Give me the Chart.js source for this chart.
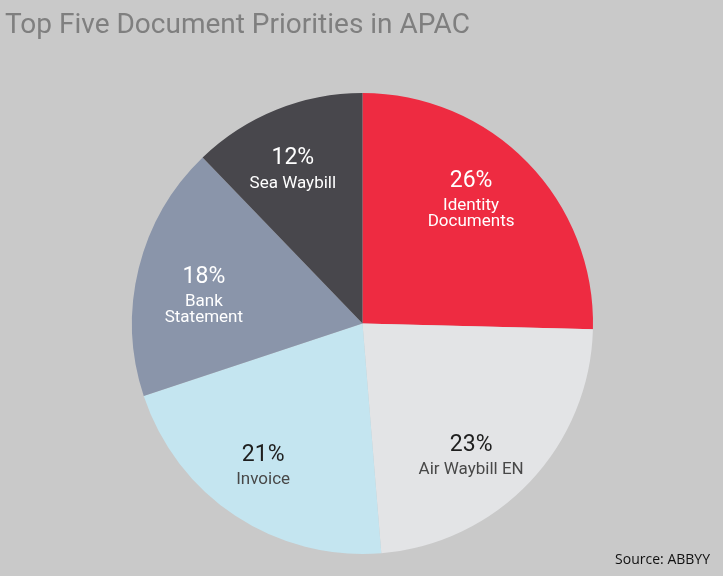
<!DOCTYPE html>
<html><head><meta charset="utf-8">
<script src="https://cdn.jsdelivr.net/npm/chart.js@4"></script>
<style>html,body{margin:0;padding:0;background:#c9c9c9;}#wrap{width:723px;height:576px;}</style>
</head><body><div id="wrap"><canvas id="c" width="723" height="576"></canvas></div>
<script>
const categories = ["Identity Documents", "Air Waybill EN", "Invoice", "Bank Statement", "Sea Waybill"];
const labelLines = [["Identity", "Documents"], ["Air Waybill EN"], ["Invoice"], ["Bank", "Statement"], ["Sea Waybill"]];
const percentLabels = ["26%", "23%", "21%", "18%", "12%"];
const values = [25.4, 23.3, 21.2, 17.9, 12.2];
const titleText = "Top Five Document Priorities in APAC";
const sourceText = "Source: ABBYY";

const colors = ["#ee2b41", "#e3e4e6", "#c4e5f0", "#8a95aa", "#48474c"];
const pctColors = ["#ffffff", "#1e1e1e", "#1e1e1e", "#ffffff", "#ffffff"];
const nameColors = ["#ffffff", "#484848", "#484848", "#ffffff", "#ffffff"];
const labelRadius = [0.777, 0.707, 0.715, 0.717, 0.778];
const labelShiftDeg = [-8.4, 4.8, 3.6, 2.45, -0.9];

const labelPlugin = {
  id: 'labels',
  afterDraw(chart) {
    const ctx = chart.ctx;
    ctx.save();
    ctx.fillStyle = '#7f7f7f';
    ctx.font = '28px Roboto, "Liberation Sans", sans-serif';
    ctx.textAlign = 'left'; ctx.textBaseline = 'alphabetic';
    ctx.fillText(titleText, 5, 33);
    ctx.fillStyle = '#111';
    ctx.font = '14px "Open Sans", "Liberation Sans", sans-serif';
    ctx.textAlign = 'right';
    ctx.fillText(sourceText, 710, 564);
    const meta = chart.getDatasetMeta(0);
    meta.data.forEach((arc, i) => {
      const p = arc.getProps(['x','y','startAngle','endAngle','outerRadius'], true);
      const mid = (p.startAngle + p.endAngle) / 2 + labelShiftDeg[i] * Math.PI / 180;
      const r = p.outerRadius * labelRadius[i];
      const cx = p.x + Math.cos(mid) * r;
      const cy = p.y + Math.sin(mid) * r;
      ctx.textAlign = 'center'; ctx.textBaseline = 'middle';
      ctx.fillStyle = pctColors[i];
      ctx.font = '23px Roboto, "Liberation Sans", sans-serif';
      ctx.fillText(percentLabels[i], cx, cy);
      ctx.fillStyle = nameColors[i];
      ctx.font = '17px Roboto, "Liberation Sans", sans-serif';
      let y = cy + 25;
      labelLines[i].forEach(l => { ctx.fillText(l, cx, y); y += 16; });
    });
    ctx.restore();
  }
};

new Chart(document.getElementById('c'), {
  type: 'pie',
  data: { labels: categories, datasets: [{ data: values, backgroundColor: colors, borderWidth: 0 }] },
  options: {
    responsive: false, animation: false,
    layout: { padding: { top: 93, bottom: 22, left: 2, right: 0 } },
    plugins: { legend: { display: false }, tooltip: { enabled: false }, title: { display: false } }
  },
  plugins: [labelPlugin]
});
</script></body></html>
